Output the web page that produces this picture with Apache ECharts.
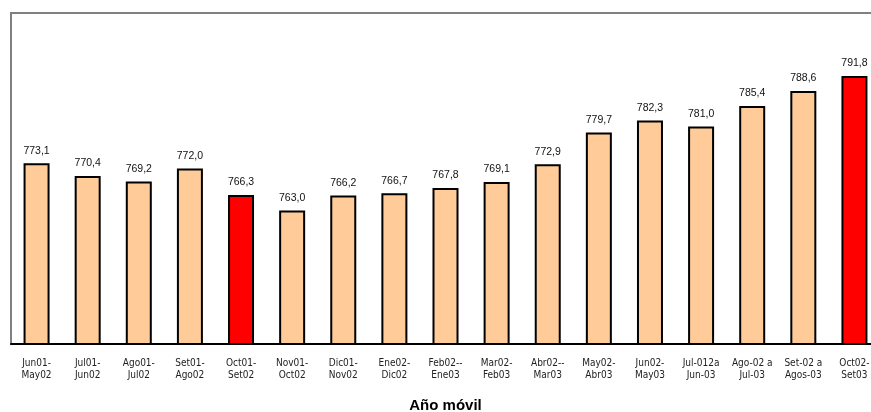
<!DOCTYPE html>
<html>
<head>
<meta charset="utf-8">
<script src="https://cdn.jsdelivr.net/npm/echarts@6/dist/echarts.min.js"></script>
<style>
html,body{margin:0;padding:0;background:#fff;}
#chart{width:871px;height:412px;}
</style>
</head>
<body>
<div id="chart"></div>
<script>
var categories = ["Jun01-\nMay02", "Jul01-\nJun02", "Ago01-\nJul02", "Set01-\nAgo02", "Oct01-\nSet02", "Nov01-\nOct02", "Dic01-\nNov02", "Ene02-\nDic02", "Feb02--\nEne03", "Mar02-\nFeb03", "Abr02--\nMar03", "May02-\nAbr03", "Jun02-\nMay03", "Jul-012a\nJun-03", "Ago-02 a\nJul-03", "Set-02 a\nAgos-03", "Oct02-\nSet03"];
var values = [773.1, 770.4, 769.2, 772.0, 766.3, 763.0, 766.2, 766.7, 767.8, 769.1, 772.9, 779.7, 782.3, 781.0, 785.4, 788.6, 791.8];
var highlighted = [4, 16];
var axisName = "Año móvil";

var labelFont = '"DejaVu Sans Condensed", "Liberation Sans", Arial, sans-serif';
var chart = echarts.init(document.getElementById('chart'));
chart.setOption({
  animation: false,
  backgroundColor: '#ffffff',
  grid: {left: 11, width: 869, top: 13, bottom: 68, show: true, borderColor: '#808080', borderWidth: 2,
         containLabel: false, outerBoundsMode: 'none'},
  xAxis: {
    type: 'category',
    data: categories,
    axisLine: {lineStyle: {color: '#000', width: 2}},
    axisTick: {length: 4, lineStyle: {color: '#000', width: 1.5}},
    axisLabel: {interval: 0, margin: 13, fontFamily: labelFont, fontSize: 10, lineHeight: 12, color: '#222'},
    name: axisName,
    nameLocation: 'middle',
    nameGap: 54,
    nameTextStyle: {fontFamily: '"Liberation Sans", Arial, sans-serif', fontSize: 15, fontWeight: 'bold', color: '#000'}
  },
  yAxis: {
    type: 'value',
    min: 734.4,
    max: 805.3,
    axisLine: {show: false},
    axisTick: {show: false},
    axisLabel: {show: false},
    splitLine: {show: false}
  },
  series: [{
    type: 'bar',
    barWidth: 26,
    data: values.map(function (v, i) {
      return {value: v, itemStyle: {color: highlighted.indexOf(i) >= 0 ? '#ff0000' : '#ffcc99'}};
    }),
    itemStyle: {borderColor: '#000', borderWidth: 2},
    label: {
      show: true,
      position: 'top',
      distance: 7,
      fontFamily: '"Liberation Sans", Arial, sans-serif',
      fontSize: 10.5,
      color: '#111',
      formatter: function (p) { return p.value.toFixed(1).replace('.', ','); }
    }
  }]
});
</script>
</body>
</html>
